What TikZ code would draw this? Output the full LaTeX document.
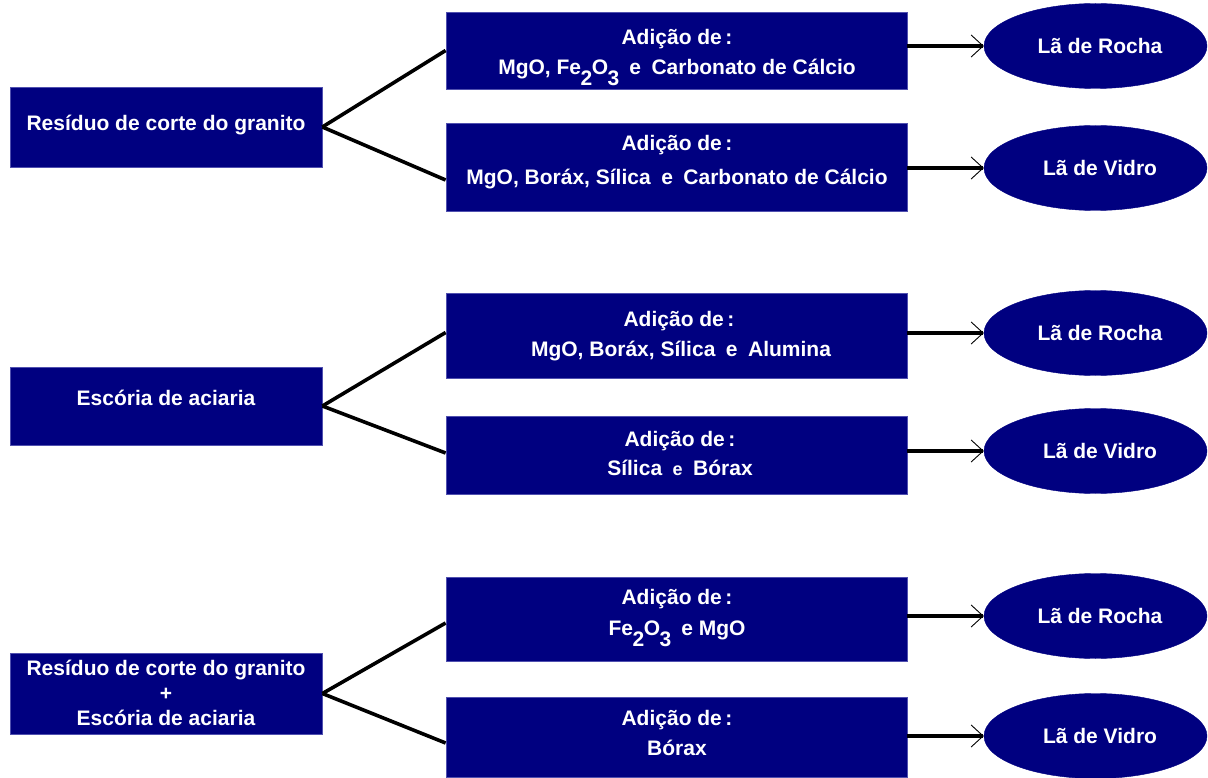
\documentclass[tikz,border=0pt]{standalone}
\usepackage{fontspec}
\setmainfont{Liberation Sans}
\usetikzlibrary{arrows.meta,shapes.geometric}
\definecolor{navyfill}{RGB}{0,0,128}
\definecolor{navyedge}{RGB}{80,80,175}
\newcommand{\lowsub}[1]{\kern-0.5pt\raisebox{-11pt}{#1}\kern-0.5pt}
\newcommand{\gapsp}{\hspace{0.5em}}
\tikzset{
  box/.style={rectangle, fill=navyfill, draw=navyedge, line width=0.8pt, inner sep=0pt},
  oval/.style={ellipse, fill=navyfill, draw=navyfill, inner sep=0pt,
    minimum width=223pt, minimum height=85pt, text=white,
    font=\bfseries\fontsize{21}{24}\selectfont},
  txt/.style={text=white, font=\bfseries\fontsize{21}{24}\selectfont, inner sep=0pt, anchor=base},
  link/.style={line width=3.6pt, black},
  flow/.style={line width=3.6pt, black, -{Straight Barb[line width=0.9pt,length=12pt,width=22pt]}}
}
\begin{document}
\begin{tikzpicture}[x=1pt,y=-1pt]
\useasboundingbox[fill=white] (0,0) rectangle (1208,778);

% ---------- group 1 ----------
\node[box, minimum width=312pt, minimum height=80pt] (L1) at (166,127) {};
\node[txt] (L1t) at (166,130.5) {Resíduo de corte do granito};

\node[box, minimum width=461pt, minimum height=77pt] (M1a) at (676.5,50.5) {};
\node[txt] (M1a1) at (677,44.5) {Adição de\,:};
\node[txt] (M1a2) at (677,74.5) {MgO, Fe\lowsub{2}O\lowsub{3}\gapsp e\gapsp Carbonato de Cálcio};

\node[box, minimum width=461pt, minimum height=88pt] (M1b) at (676.5,167) {};
\node[txt] (M1b1) at (677,150.5) {Adição de\,:};
\node[txt] (M1b2) at (677,184.5) {MgO, Boráx, Sílica\gapsp e\gapsp Carbonato de Cálcio};

\node[oval] (E1a) at (1095.5,46) {\hspace*{9pt}Lã de Rocha};
\node[oval] (E1b) at (1095.5,168) {\hspace*{9pt}Lã de Vidro};

\draw[link] (L1.east) -- (M1a.west);
\draw[link] (L1.east) -- ([yshift=-13pt]M1b.west);
\draw[flow] (M1a.east |- E1a.west) -- (E1a.west);
\draw[flow] (M1b.east |- E1b.west) -- (E1b.west);

% ---------- group 2 ----------
\node[box, minimum width=312pt, minimum height=78pt] (L2) at (166,406) {};
\node[txt] (L2t) at (166,405.5) {Escória de aciaria};

\node[box, minimum width=461pt, minimum height=85pt] (M2a) at (676.5,335.5) {};
\node[txt] (M2a1) at (679,326.5) {Adição de\,:};
\node[txt] (M2a2) at (681,356.5) {MgO, Boráx, Sílica\gapsp e\gapsp Alumina};

\node[box, minimum width=461pt, minimum height=78pt] (M2b) at (676.5,455) {};
\node[txt] (M2b1) at (680,446.5) {Adição de\,:};
\node[txt] (M2b2) at (680,475.5) {Sílica\gapsp{\fontsize{18}{18}\selectfont e}\gapsp Bórax};

\node[oval] (E2a) at (1095.5,333) {\hspace*{9pt}Lã de Rocha};
\node[oval] (E2b) at (1095.5,451) {\hspace*{9pt}Lã de Vidro};

\draw[link] (L2.east) -- ([yshift=3pt]M2a.west);
\draw[link] (L2.east) -- ([yshift=2pt]M2b.west);
\draw[flow] (M2a.east |- E2a.west) -- (E2a.west);
\draw[flow] (M2b.east |- E2b.west) -- (E2b.west);

% ---------- group 3 ----------
\node[box, minimum width=312pt, minimum height=81pt] (L3) at (166,693.5) {};
\node[txt] (L3a) at (166,675.5) {Resíduo de corte do granito};
\node[txt] (L3b) at (166,700.5) {+};
\node[txt] (L3c) at (166,725.5) {Escória de aciaria};

\node[box, minimum width=461pt, minimum height=84pt] (M3a) at (676.5,619) {};
\node[txt] (M3a1) at (677,604.5) {Adição de\,:};
\node[txt] (M3a2) at (677,635.5) {Fe\lowsub{2}O\lowsub{3}\gapsp e MgO};

\node[box, minimum width=461pt, minimum height=80pt] (M3b) at (676.5,737) {};
\node[txt] (M3b1) at (677,725.5) {Adição de\,:};
\node[txt] (M3b2) at (677,755.5) {Bórax};

\node[oval] (E3a) at (1095.5,616) {\hspace*{9pt}Lã de Rocha};
\node[oval] (E3b) at (1095.5,736) {\hspace*{9pt}Lã de Vidro};

\draw[link] (L3.east) -- ([yshift=-4pt]M3a.west);
\draw[link] (L3.east) -- ([yshift=-6pt]M3b.west);
\draw[flow] (M3a.east |- E3a.west) -- (E3a.west);
\draw[flow] (M3b.east |- E3b.west) -- (E3b.west);
\end{tikzpicture}
\end{document}
